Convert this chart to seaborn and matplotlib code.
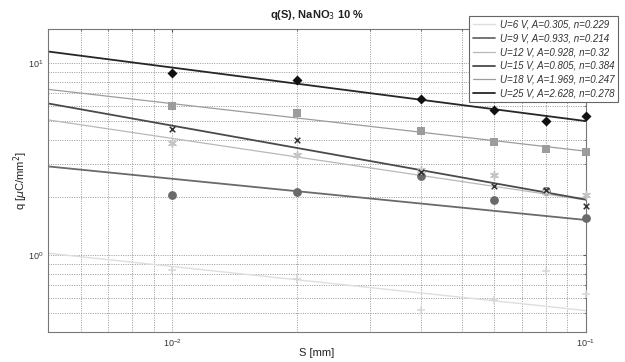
import numpy as np
import pandas as pd
import matplotlib
matplotlib.use("Agg")
import matplotlib.pyplot as plt
import seaborn as sns

# ---- data ----
S = [0.01, 0.02, 0.04, 0.06, 0.08, 0.1]
voltages = [6, 9, 12, 15, 18, 25]
A_vals = [0.305, 0.933, 0.928, 0.805, 1.969, 2.628]
n_vals = [0.229, 0.214, 0.32, 0.384, 0.247, 0.278]
A_labels = ["0.305", "0.933", "0.928", "0.805", "1.969", "2.628"]
n_labels = ["0.229", "0.214", "0.32", "0.384", "0.247", "0.278"]
q_6 = [0.836, 0.75, 0.518, 0.584, 0.829, 0.632]
q_9 = [2.05, 2.14, 2.58, 1.93, 2.16, 1.56]
q_12 = [3.84, 3.31, 2.78, 2.61, 2.13, 2.05]
q_15 = [4.54, 3.98, 2.72, 2.29, 2.18, 1.80]
q_18 = [6.0, 5.46, 4.42, 3.87, 3.55, 3.45]
q_25 = [8.87, 8.19, 6.5, 5.72, 5.02, 5.33]
q_series = [q_6, q_9, q_12, q_15, q_18, q_25]
x_range = [0.005, 0.1]
y_range = [0.4, 15]

# ---- styles ----
line_colors = ["#dedede", "#6a6a6a", "#b8b8b8", "#4a4a4a", "#9c9c9c", "#262626"]
line_widths = [1.0, 1.3, 0.9, 1.3, 0.9, 1.3]
marker_colors = ["#d6d6d6", "#6a6a6a", "#c4c4c4", "#333333", "#9c9c9c", "#111111"]
markers = ["+", "o", (6, 2, 0), "x", "s", "D"]
marker_sizes = [30, 40, 30, 16, 32, 26]

sns.set_style("white")
plt.rcParams["font.family"] = ["Liberation Sans", "DejaVu Sans"]

fig = plt.figure(figsize=(6.25, 3.62), dpi=100)
ax = fig.add_axes([48 / 625, 30 / 362, (586 - 48) / 625, (332 - 29) / 362])
ax.set_xscale("log")
ax.set_yscale("log")

for U, A, n, Al, nl, q, lc, lw in zip(voltages, A_vals, n_vals, A_labels, n_labels,
                                      q_series, line_colors, line_widths):
    xs = np.array(x_range)
    fit = pd.DataFrame({"S": xs, "q": A * xs ** (-n)})
    sns.lineplot(data=fit, x="S", y="q", ax=ax, color=lc, linewidth=lw,
                 label=f"U={U} V, A={Al}, n={nl}")

for q, mc, mk, ms in zip(q_series, marker_colors, markers, marker_sizes):
    pts = pd.DataFrame({"S": S, "q": q})
    if mk in ("+", "x") or isinstance(mk, tuple):
        sns.scatterplot(data=pts, x="S", y="q", ax=ax, marker=mk, color=mc,
                        s=ms, linewidth=1.1, zorder=3, legend=False, clip_on=False)
    else:
        sns.scatterplot(data=pts, x="S", y="q", ax=ax, marker=mk, color=mc,
                        s=ms, linewidth=0, zorder=3, legend=False, clip_on=False)

ax.set_xlim(*x_range)
ax.set_ylim(*y_range)
ax.grid(True, which="both", linestyle=(0, (1.2, 1.6)), color="#8a8a8a", linewidth=0.6)
ax.tick_params(which="both", direction="in", labelsize=6.5, colors="#555555",
               labelcolor="#333333", top=True, right=True, length=2.5)
ax.tick_params(which="minor", length=1.5)
ax.yaxis.set_minor_formatter(matplotlib.ticker.NullFormatter())
ax.xaxis.set_minor_formatter(matplotlib.ticker.NullFormatter())
for sp in ax.spines.values():
    sp.set_color("#777777")
    sp.set_linewidth(0.8)

ax.set_xlabel("S [mm]", fontsize=8, color="#222222")
ax.xaxis.set_label_coords(0.5, -(353 - 332) / 303)
ax.xaxis.label.set_va("center")
ax.set_ylabel(r"q [$\mu$C/mm$^2$]", fontsize=8, color="#222222")
ax.yaxis.set_label_coords(-(48 - 21) / 538, 0.5)
ax.yaxis.label.set_va("center")
ax.set_title(r"q(S), NaNO$_3$ 10 %", fontsize=8, fontweight="bold", color="#222222", pad=8)

leg = ax.legend(loc="upper right", bbox_to_anchor=(618 / 625, (362 - 16) / 362),
                bbox_transform=fig.transFigure,
                prop={"style": "italic", "size": 7}, frameon=True, fancybox=False,
                edgecolor="#666666", framealpha=1, handlelength=2.2,
                labelspacing=0.38, borderpad=0.4, handletextpad=0.5, borderaxespad=0)
leg.get_frame().set_linewidth(0.8)
leg.set_zorder(10)
for t in leg.get_texts():
    t.set_color("#333333")

fig.savefig("out.png", dpi=100)
